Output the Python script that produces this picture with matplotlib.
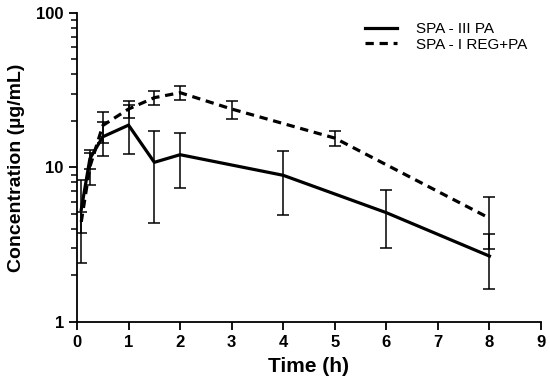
import numpy as np
import matplotlib
matplotlib.use("Agg")
import matplotlib.pyplot as plt
from matplotlib.ticker import LogLocator, NullFormatter, FixedFormatter, FixedLocator

# SPA - III PA (solid)
t_iii = [0.083, 0.25, 0.5, 1, 1.5, 2, 4, 6, 8]
c_iii = [5.35, 11.4, 15.8, 18.8, 10.8, 12.1, 8.9, 5.1, 2.67]
sd_iii = [2.95, 1.6, 3.9, 6.5, 6.4, 4.7, 3.95, 2.1, 1.03]

# SPA - I REG+PA (dashed)
t_i = [0.083, 0.25, 0.5, 1, 1.5, 2, 3, 5, 8]
c_i = [4.45, 10.1, 18.7, 23.9, 28.3, 30.5, 23.9, 15.5, 4.7]
sd_i = [0.7, 2.35, 4.2, 3.0, 3.0, 3.2, 3.2, 1.8, 1.73]

labels = ["SPA - III PA", "SPA - I REG+PA"]
x_ticks = list(range(0, 10))
y_ticks = [1, 10, 100]

plt.rcParams["font.family"] = ["Liberation Sans", "DejaVu Sans"]

fig = plt.figure(figsize=(5.5, 3.91), dpi=100)
ax = fig.add_axes([0.14, 0.1765, 0.8436, 0.7903])

ax.errorbar(t_iii, c_iii, yerr=sd_iii, fmt="none", ecolor="black",
            elinewidth=1.1, capsize=4.3, capthick=1.1, zorder=2)
ax.errorbar(t_i, c_i, yerr=sd_i, fmt="none", ecolor="black",
            elinewidth=1.1, capsize=4.3, capthick=1.1, zorder=2)
ax.plot(t_iii, c_iii, color="black", lw=2.3, label=labels[0], zorder=3)
ax.plot(t_i, c_i, color="black", lw=2.3, linestyle=(0, (2.6, 1.8)),
        label=labels[1], zorder=3)

ax.set_yscale("log")
ax.set_xlim(0, 9)
ax.set_ylim(1, 100)
ax.set_xticks(x_ticks)
ax.yaxis.set_major_locator(FixedLocator(y_ticks))
ax.yaxis.set_major_formatter(FixedFormatter([str(v) for v in y_ticks]))
ax.yaxis.set_minor_locator(LogLocator(base=10, subs=np.arange(2, 10)))
ax.yaxis.set_minor_formatter(NullFormatter())

for s in ["top", "right"]:
    ax.spines[s].set_visible(False)
for s in ["left", "bottom"]:
    ax.spines[s].set_linewidth(1.3)

ax.tick_params(axis="both", which="major", direction="out", length=6,
               width=1.3, labelsize=12)
ax.tick_params(axis="y", which="minor", direction="out", length=4, width=1.1)
for lab in ax.get_xticklabels() + ax.get_yticklabels():
    lab.set_fontweight("bold")

ax.set_xlabel("Time (h)", fontsize=15, fontweight="bold", labelpad=5)
ax.set_ylabel("Concentration (µg/mL)", fontsize=14, fontweight="bold", labelpad=8)

ax.legend(loc="upper right", bbox_to_anchor=(1.0, 1.015), frameon=False,
          fontsize=11, handlelength=2.1, handletextpad=1.25, labelspacing=0.1)

fig.savefig("out.png", dpi=100)
